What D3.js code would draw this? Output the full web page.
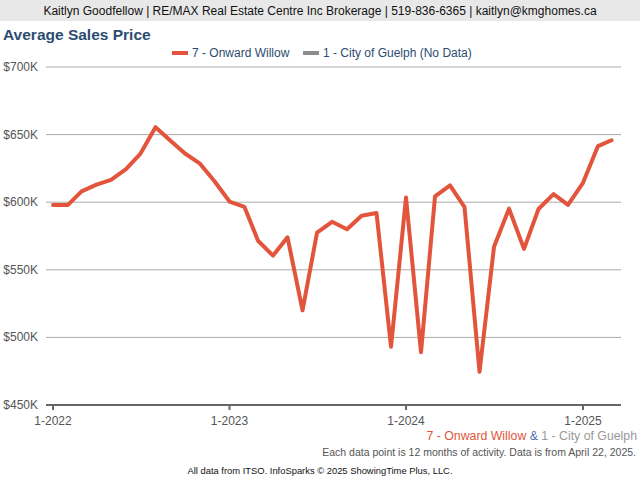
<html>
<head>
    <title>Average Sales Price</title>
    <script src='https://d3js.org/d3.v7.min.js'></script>
    <style>
        body { margin: 0; background-color: white; font-family: 'Liberation Sans', Arial, sans-serif; }
        .grid line { stroke: #aaa; stroke-width: 1; }
        .ylab { fill: #555; font-size: 12px; }
        .xlab { fill: #555; font-size: 12px; }
    </style>
</head>
<body>
<script>

var months = d3.range(39).map(function(i) { return new Date(2022, i, 1); });

var onwardWillow = [598, 598, 608, 613, 616.5, 624.5, 636, 655.5, 645.5, 636, 628.5, 615.5,
                    600.5, 596.5, 571.5, 560.5, 574, 520, 577.5, 585.5, 580, 590, 592, 493,
                    603.5, 489, 604.3, 612.5, 596.4, 474.5, 567, 595.2, 565.5, 595, 606, 598,
                    614.3, 641.5, 645.8];

var yTicks = [450, 500, 550, 600, 650, 700];
var xTicks = [new Date(2022, 0, 1), new Date(2023, 0, 1), new Date(2024, 0, 1), new Date(2025, 0, 1)];

var width = 640, height = 480;

var svg = d3.select('body').append('svg')
        .attr('width', width)
        .attr('height', height);

// header bar
svg.append('rect')
        .attr('x', 0).attr('y', 0)
        .attr('width', width).attr('height', 21)
        .attr('fill', '#e8e8e8');
svg.append('text')
        .attr('x', 320).attr('y', 15)
        .attr('text-anchor', 'middle')
        .attr('font-size', 12)
        .attr('fill', '#111')
        .text('Kaitlyn Goodfellow | RE/MAX Real Estate Centre Inc Brokerage | 519-836-6365 | kaitlyn@kmghomes.ca');

svg.append('text')
        .attr('x', 3).attr('y', 40)
        .attr('font-size', 15.5)
        .attr('font-weight', 'bold')
        .attr('fill', '#2b4c71')
        .text('Average Sales Price');

// legend
var legend = [{name: '7 - Onward Willow', color: '#e2553c', x: 172},
              {name: '1 - City of Guelph (No Data)', color: '#8c8c8c', x: 303}];
legend.forEach(function(d) {
    svg.append('line')
        .attr('x1', d.x).attr('x2', d.x + 16)
        .attr('y1', 53).attr('y2', 53)
        .attr('stroke', d.color).attr('stroke-width', 4);
    svg.append('text')
        .attr('x', d.x + 20).attr('y', 57)
        .attr('font-size', 12)
        .attr('fill', '#2b4c71')
        .text(d.name);
});

var x = d3.scaleTime()
        .domain([new Date(2022, 0, 1), new Date(2025, 0, 1)])
        .range([53, 583]);

var y = d3.scaleLinear()
        .domain([450, 700])
        .range([405, 67]);

// gridlines
var grid = svg.append('g').attr('class', 'grid');
grid.selectAll('line')
        .data(yTicks.slice(1))
        .enter().append('line')
        .attr('x1', 46).attr('x2', 621)
        .attr('y1', function(d) { return y(d); })
        .attr('y2', function(d) { return y(d); });

svg.selectAll('.ylab')
        .data(yTicks)
        .enter().append('text')
        .attr('class', 'ylab')
        .attr('x', 38)
        .attr('y', function(d) { return y(d) + 4; })
        .attr('text-anchor', 'end')
        .text(function(d) { return '$' + d + 'K'; });

// x axis
svg.append('line')
        .attr('x1', 46).attr('x2', 621)
        .attr('y1', 405).attr('y2', 405)
        .attr('stroke', '#666').attr('stroke-width', 2);

svg.selectAll('.xtick')
        .data(xTicks)
        .enter().append('line')
        .attr('class', 'xtick')
        .attr('x1', function(d) { return x(d); })
        .attr('x2', function(d) { return x(d); })
        .attr('y1', 405).attr('y2', 410)
        .attr('stroke', '#666').attr('stroke-width', 2);

svg.selectAll('.xlab')
        .data(xTicks)
        .enter().append('text')
        .attr('class', 'xlab')
        .attr('x', function(d) { return x(d); })
        .attr('y', 425)
        .attr('text-anchor', 'middle')
        .text(function(d) { return '1-' + d.getFullYear(); });

// the series
var line = d3.line()
        .x(function(d, i) { return x(months[i]); })
        .y(function(d) { return y(d); });

svg.append('path')
        .datum(onwardWillow)
        .attr('d', line)
        .attr('fill', 'none')
        .attr('stroke', '#e2553c')
        .attr('stroke-width', 4)
        .attr('stroke-linejoin', 'round')
        .attr('stroke-linecap', 'round');

// footer
var foot = svg.append('text')
        .attr('x', 637).attr('y', 440)
        .attr('text-anchor', 'end')
        .attr('font-size', 12.3);
foot.append('tspan').attr('fill', '#e2553c').text('7 - Onward Willow ');
foot.append('tspan').attr('fill', '#4a6fa5').text('& ');
foot.append('tspan').attr('fill', '#999').text('1 - City of Guelph');

svg.append('text')
        .attr('x', 636).attr('y', 456)
        .attr('text-anchor', 'end')
        .attr('font-size', 10.5)
        .attr('fill', '#555')
        .text('Each data point is 12 months of activity. Data is from April 22, 2025.');

svg.append('text')
        .attr('x', 320).attr('y', 474)
        .attr('text-anchor', 'middle')
        .attr('font-size', 9.4)
        .attr('fill', '#111')
        .text('All data from ITSO. InfoSparks \u00a9 2025 ShowingTime Plus, LLC.');

</script>
</body>
</html>
